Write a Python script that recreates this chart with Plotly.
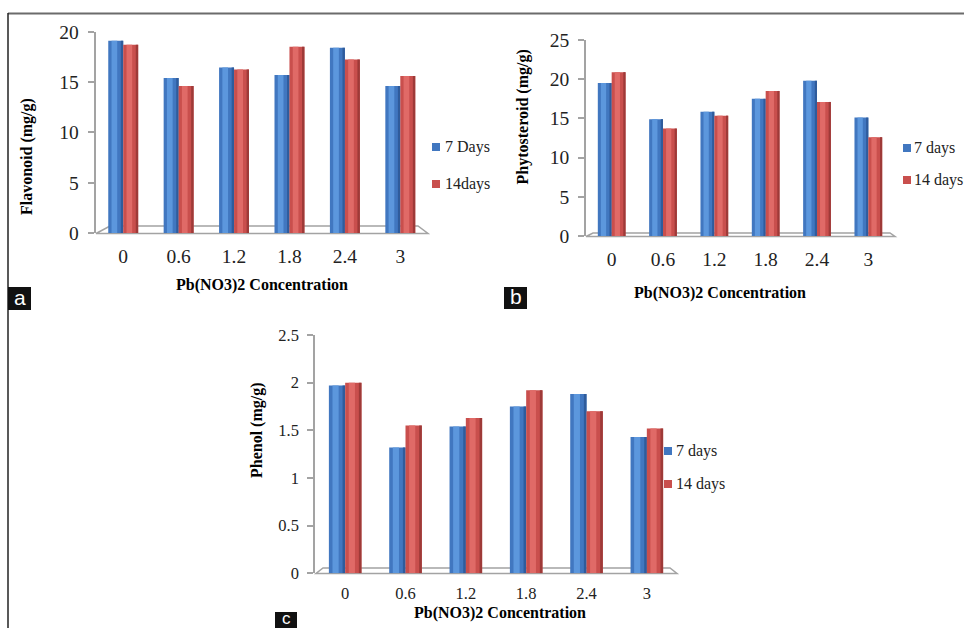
import plotly.graph_objects as go

W, H = 964, 628

categories = ["0", "0.6", "1.2", "1.8", "2.4", "3"]

flavonoid_7 = [19.1, 15.4, 16.45, 15.7, 18.4, 14.6]
flavonoid_14 = [18.7, 14.6, 16.25, 18.5, 17.25, 15.6]

phyto_7 = [19.5, 14.9, 15.85, 17.5, 19.8, 15.1]
phyto_14 = [20.9, 13.7, 15.35, 18.5, 17.1, 12.6]

phenol_7 = [1.97, 1.32, 1.54, 1.75, 1.88, 1.43]
phenol_14 = [2.0, 1.55, 1.63, 1.92, 1.70, 1.52]

labels_a = ["7 Days", "14days"]
labels_b = ["7 days", "14 days"]
labels_c = ["7 days", "14 days"]

SERIF = "Liberation Serif, Times New Roman, serif"
SANS = "Liberation Sans, Arial, sans-serif"

BLUE = "#4177c0"
BLUE_HI = "#5c97dd"
BLUE_DK = "#2f5c9c"
RED = "#c94f4d"
RED_HI = "#e06a67"
RED_DK = "#9e3a38"
AXIS = "#a3a3a3"


def X(px):
    return px / W


def Y(py):
    return 1 - py / H


fig = go.Figure()

BW = 0.27  # bar width in category units


def add_series(vals, xa, ya, color, hi, dk, off, name):
    fig.add_trace(go.Bar(x=categories, y=vals, xaxis=xa, yaxis=ya, width=BW, offset=off,
                         marker=dict(color=color, line=dict(width=0)), name=name,
                         showlegend=False, hoverinfo="y"))
    fig.add_trace(go.Bar(x=categories, y=vals, xaxis=xa, yaxis=ya, width=BW * 0.38,
                         offset=off + BW * 0.22, marker=dict(color=hi, line=dict(width=0)),
                         showlegend=False, hoverinfo="skip"))
    fig.add_trace(go.Bar(x=categories, y=vals, xaxis=xa, yaxis=ya, width=BW * 0.16,
                         offset=off + BW * 0.84, marker=dict(color=dk, line=dict(width=0)),
                         showlegend=False, hoverinfo="skip"))


add_series(flavonoid_7, "x", "y", BLUE, BLUE_HI, BLUE_DK, -BW, labels_a[0])
add_series(flavonoid_14, "x", "y", RED, RED_HI, RED_DK, 0, labels_a[1])
add_series(phyto_7, "x2", "y2", BLUE, BLUE_HI, BLUE_DK, -BW, labels_b[0])
add_series(phyto_14, "x2", "y2", RED, RED_HI, RED_DK, 0, labels_b[1])
add_series(phenol_7, "x3", "y3", BLUE, BLUE_HI, BLUE_DK, -BW, labels_c[0])
add_series(phenol_14, "x3", "y3", RED, RED_HI, RED_DK, 0, labels_c[1])


def xaxis(domain, anchor, size, standoff):
    return dict(domain=[X(domain[0]), X(domain[1])], anchor=anchor, type="category",
                showline=False, showgrid=False, zeroline=False, ticks="",
                tickfont=dict(family=SERIF, size=size, color="#222"),
                ticklabelstandoff=standoff, fixedrange=True, automargin=False)


def yaxis(domain, anchor, rng, dtick, size):
    return dict(domain=[Y(domain[0]), Y(domain[1])], anchor=anchor, range=rng, dtick=dtick,
                showline=True, linecolor=AXIS, linewidth=1.5, ticks="outside",
                ticklen=6, tickwidth=1.5, tickcolor=AXIS, showgrid=False, zeroline=False,
                tickfont=dict(family=SERIF, size=size, color="#222"),
                ticklabelstandoff=5, fixedrange=True, automargin=False)


fig.update_layout(
    width=W, height=H, margin=dict(l=0, r=0, t=0, b=0, pad=0, autoexpand=False),
    paper_bgcolor="white", plot_bgcolor="rgba(0,0,0,0)",
    barmode="overlay", showlegend=False,
    xaxis=xaxis((95.5, 428), "y", 19.5, 9),
    yaxis=yaxis((233, 31.7), "x", [0, 20], 5, 19.5),
    xaxis2=xaxis((586, 894), "y2", 19.5, 9),
    yaxis2=yaxis((236, 40), "x2", [0, 25], 5, 19.5),
    xaxis3=xaxis((315, 677), "y3", 16.5, 8),
    yaxis3=yaxis((573.3, 335), "x3", [0, 2.5], 0.5, 16.5),
)

shapes = []
# outer frame lines
shapes.append(dict(type="line", xref="paper", yref="paper", x0=X(8), x1=X(964), y0=Y(13.5), y1=Y(13.5),
                   line=dict(color="#6b6b6b", width=2)))
shapes.append(dict(type="line", xref="paper", yref="paper", x0=X(8), x1=X(8), y0=Y(13), y1=Y(628),
                   line=dict(color="#222", width=1.5)))


def floor(fl, fr, bl, br, yf, yb):
    path = f"M{X(fl)},{Y(yf)} L{X(fr)},{Y(yf)} L{X(br)},{Y(yb)} L{X(bl)},{Y(yb)} Z"
    return dict(type="path", xref="paper", yref="paper", path=path, layer="below",
                fillcolor="white", line=dict(color=AXIS, width=1.5))


shapes.append(floor(96, 428, 110, 418, 233.5, 226))
shapes.append(floor(586, 895, 593, 890, 236.5, 233))
shapes.append(floor(316, 677, 323, 670, 573.5, 568))

# panel letter boxes
for (x0, y0, x1, y1) in [(8, 287, 31, 310), (504, 287, 527, 309), (275, 612, 297, 636)]:
    shapes.append(dict(type="rect", xref="paper", yref="paper", x0=X(x0), x1=X(x1), y0=Y(y1), y1=Y(y0),
                       fillcolor="#111", line=dict(width=0)))

ann = []


def text(t, x, y, size=16, angle=0, bold=True, color="black", family=SERIF, anchor="center"):
    ann.append(dict(text=f"<b>{t}</b>" if bold else t, x=X(x), y=Y(y), xref="paper", yref="paper",
                    showarrow=False, xanchor=anchor, yanchor="middle", textangle=angle,
                    font=dict(family=family, size=size, color=color)))


# legends (swatch + label), one per panel
legend_specs = [
    (labels_a, 436, 444, (147, 184)),
    (labels_b, 907, 913, (148, 180)),
    (labels_c, 668, 675, (451, 484)),
]
for labels, sx, tx, ys in legend_specs:
    for lab, yy, col in zip(labels, ys, (BLUE, RED)):
        shapes.append(dict(type="rect", xref="paper", yref="paper", x0=X(sx - 4), x1=X(sx + 4),
                           y0=Y(yy + 4), y1=Y(yy - 4), fillcolor=col, line=dict(width=0)))
        text(lab, tx - 1, yy, size=16, bold=False, color="#222", anchor="left")

fig.update_layout(shapes=shapes)

text("Flavonoid (mg/g)", 27.5, 156.5, angle=-90)
text("Pb(NO3)2 Concentration", 262, 285)
text("Phytosteroid (mg/g)", 523, 117.5, angle=-90)
text("Pb(NO3)2 Concentration", 720, 293)
text("Phenol (mg/g)", 257, 430, angle=-90)
text("Pb(NO3)2 Concentration", 500, 613)
text("a", 19.5, 297.5, size=21, bold=False, color="white", family=SANS)
text("b", 515.5, 296.5, size=21, bold=False, color="white", family=SANS)
text("c", 286, 618.5, size=17, bold=False, color="white", family=SANS)

fig.update_layout(annotations=ann)

fig.write_html("out.html")
